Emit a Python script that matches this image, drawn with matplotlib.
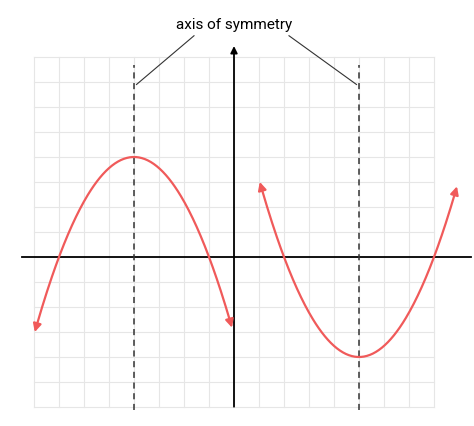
import numpy as np
import matplotlib.pyplot as plt

# parabola parameters (grid units)
left_vertex = (-4, 4)
left_a = -4 / 9
left_range = (-8, -0.05)
right_vertex = (5, -4)
right_a = 4 / 9
right_range = (1, 8.95)
sym_axes = [-4, 5]
label = "axis of symmetry"

red = "#f05a5a"

fig = plt.figure(figsize=(4.74, 4.27), dpi=100)
ax = fig.add_axes([0, 0, 1, 1])
ax.set_xlim(-234 / 25, 240 / 25)
ax.set_ylim(-169 / 25, 258 / 25)
ax.axis("off")

# grid
for gx in range(-8, 9):
    ax.plot([gx, gx], [-6, 8], color="#e6e6e6", lw=0.8, zorder=0)
for gy in range(-6, 9):
    ax.plot([-8, 8], [gy, gy], color="#e6e6e6", lw=0.8, zorder=0)

# axes
ax.plot([-8.5, 9.5], [0, 0], color="black", lw=1.3)
ax.annotate("", xy=(0, 8.55), xytext=(0, -6.1),
            arrowprops=dict(arrowstyle="-|>", color="black", lw=1.3))

# axes of symmetry
for sx in sym_axes:
    ax.plot([sx, sx], [-6.1, 7.7], color="#333333", lw=1.1, ls=(0, (4, 3)))

ax.text(0, 9.3, label, ha="center", va="center", fontsize=11, family="Roboto")
ax.plot([-1.6, -3.9], [8.85, 6.9], color="#333333", lw=0.8)
ax.plot([2.2, 4.9], [8.85, 6.9], color="#333333", lw=0.8)

def parab(a, v, r):
    x = np.linspace(r[0], r[1], 200)
    return x, a * (x - v[0]) ** 2 + v[1]

for a, v, r in [(left_a, left_vertex, left_range), (right_a, right_vertex, right_range)]:
    x, y = parab(a, v, r)
    ax.plot(x[3:-3], y[3:-3], color=red, lw=1.6)
    ax.annotate("", xy=(x[0], y[0]), xytext=(x[4], y[4]),
                arrowprops=dict(arrowstyle="-|>", color=red, lw=1.6, mutation_scale=12))
    ax.annotate("", xy=(x[-1], y[-1]), xytext=(x[-5], y[-5]),
                arrowprops=dict(arrowstyle="-|>", color=red, lw=1.6, mutation_scale=12))

fig.savefig("out.png", dpi=100)
